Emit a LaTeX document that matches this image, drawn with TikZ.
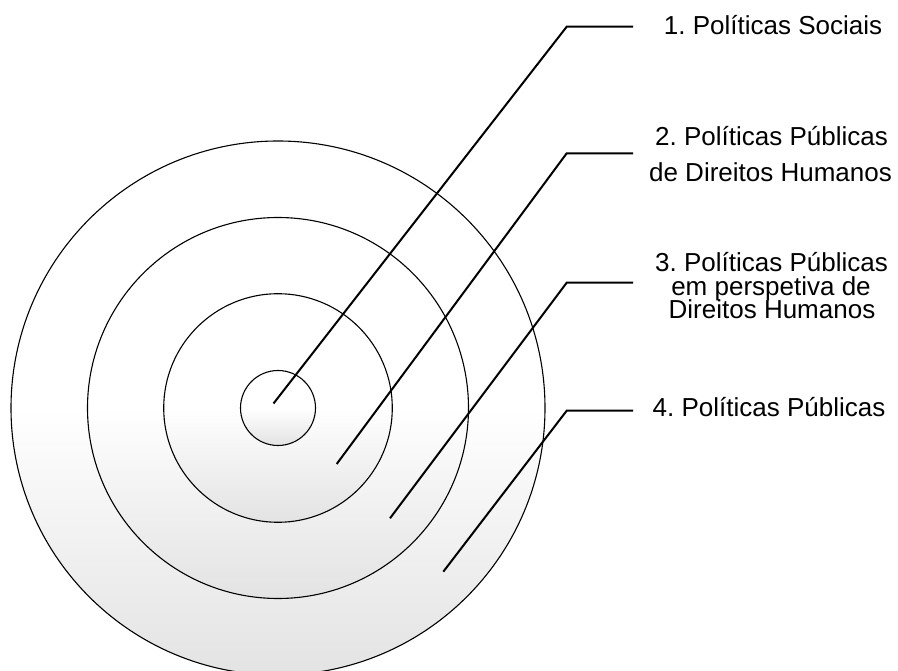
\documentclass[tikz,border=0pt]{standalone}
\usepackage{fontspec}
\setmainfont{Liberation Sans}
\frenchspacing
\begin{document}
\begin{tikzpicture}[x=1pt,y=-1pt,
  ring/.style={circle, draw=black, line width=1.1pt, inner sep=0pt, outer sep=0pt,
    top color=white, bottom color=black!11, middle color=white},
  leader/.style={line width=2pt, line join=miter},
  lbl/.style={anchor=base, inner sep=0pt, font=\fontsize{26}{30}\selectfont}]
\useasboundingbox (0,0) rectangle (898,671);
\begin{scope}
\clip (0,0) rectangle (898,671);
\node[ring, minimum size=534pt] (r4) at (278,408) {};
\node[ring, minimum size=381pt] (r3) at (278,408) {};
\node[ring, minimum size=228.6pt] (r2) at (278,408) {};
\node[ring, minimum size=75pt] (r1) at (278,408) {};
\end{scope}

\coordinate (s1) at (273.5,403.5);
\coordinate (k1) at (566.7,26.7);
\coordinate (e1) at (633,26.7);
\coordinate (s2) at (336.7,464);
\coordinate (k2) at (566.7,153.3);
\coordinate (e2) at (633,153.3);
\coordinate (s3) at (390,518.3);
\coordinate (k3) at (566.7,282.7);
\coordinate (e3) at (633,282.7);
\coordinate (s4) at (443.3,571.7);
\coordinate (k4) at (566.7,410.7);
\coordinate (e4) at (633,410.7);

\draw[leader] (s1) -- (k1) -- (e1);
\draw[leader] (s2) -- (k2) -- (e2);
\draw[leader] (s3) -- (k3) -- (e3);
\draw[leader] (s4) -- (k4) -- (e4);

\node[lbl] (t1) at (773,35) {1. Políticas Sociais};
\node[lbl] (t2a) at (771.5,146) {2. Políticas Públicas};
\node[lbl] (t2b) at (770.5,181.7) {de Direitos Humanos};
\node[lbl] (t3a) at (771.5,271.7) {3. Políticas Públicas};
\node[lbl] (t3b) at (771,295.2) {em perspetiva de};
\node[lbl] (t3c) at (772,318.7) {Direitos Humanos};
\node[lbl] (t4) at (769,417) {4. Políticas Públicas};
\end{tikzpicture}
\end{document}
